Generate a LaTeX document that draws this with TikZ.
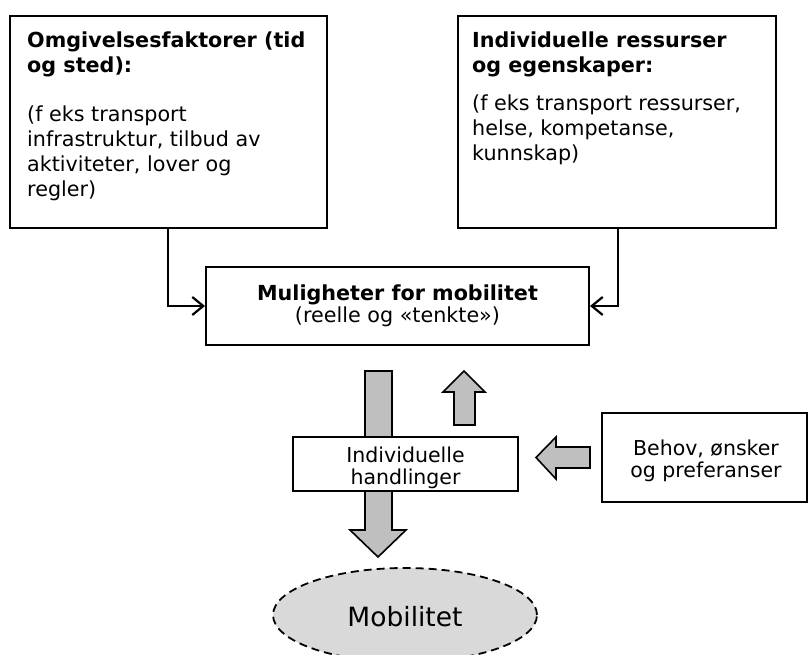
\documentclass[tikz,border=0pt]{standalone}
\usepackage{fontspec}
\setmainfont{DejaVu Sans}
\usetikzlibrary{arrows.meta,shapes.geometric}
\definecolor{arrgray}{HTML}{BFBFBF}
\definecolor{ellgray}{HTML}{D9D9D9}
\begin{document}
\begin{tikzpicture}[x=1pt,y=-1pt,
  box/.style={draw, line width=2pt, fill=white, inner sep=0pt},
  conn/.style={line width=2.6pt, -{Straight Barb[length=11pt,width=18pt,line width=2.2pt]}},
  blk/.style={draw, line width=1.6pt, fill=arrgray, line join=miter},
  txt/.style={inner sep=0pt, align=left, anchor=north west, font=\fontsize{20.7}{25}\selectfont},
  small/.style={inner sep=0pt, font=\fontsize{20.5}{22}\selectfont, align=center},
]
\useasboundingbox (0,0) rectangle (808,655);
\clip (0,0) rectangle (808,655);

% top boxes
\node[box, minimum width=317pt, minimum height=212pt, anchor=north west] (A) at (9,15) {};
\node[box, minimum width=318pt, minimum height=212pt, anchor=north west] (B) at (457,15) {};
\node[txt] (Ah) at (27,32) {\bfseries Omgivelsesfaktorer (tid\\\bfseries og sted):};
\node[txt] (At) at (27,106) {(f eks transport\\infrastruktur, tilbud av\\aktiviteter, lover og\\regler)};
\node[txt] (Bh) at (472,32) {\bfseries Individuelle ressurser\\\bfseries og egenskaper:};
\node[txt] (Bt) at (472,95) {(f eks transport ressurser,\\helse, kompetanse,\\kunnskap)};

% middle box
\node[box, minimum width=383pt, minimum height=78pt, align=center,
      font=\fontsize{20.7}{22}\selectfont] (M) at (397.5,306)
      {\textbf{Muligheter for mobilitet}\\(reelle og «tenkte»)};

\draw[conn] ([xshift=159pt]A.south west) |- (M.west);
\draw[conn] ([xshift=-159pt]B.south east) |- (M.east);

% block arrows
\draw[blk] (365,371) -- (392,371) -- (392,530) -- (406,530) -- (378,557)
           -- (350,530) -- (365,530) -- cycle;
\draw[blk] (454,425) -- (454,392) -- (443,392) -- (464,371) -- (485,392)
           -- (475,392) -- (475,425) -- cycle;
\draw[blk] (590,447) -- (556,447) -- (556,437) -- (536,457.5) -- (556,479)
           -- (556,468) -- (590,468) -- cycle;

% lower boxes
\node[box, minimum width=225pt, minimum height=54pt] (H) at (405.5,464) {};
\node[small] (Ht) at (405.5,468) {Individuelle\\handlinger};
\node[box, minimum width=205pt, minimum height=89pt] (P) at (704.5,457) {};
\node[small] (Pt) at (706,461) {Behov, ønsker\\og preferanser};

% ellipse
\node[ellipse, draw, line width=1.8pt, dash pattern=on 8pt off 5pt, fill=ellgray,
      minimum width=264pt, minimum height=94pt, inner sep=0pt] (E) at (405,615) {};
\node[font=\fontsize{26.5}{30}\selectfont, inner sep=0pt] (Et) at (405,617) {Mobilitet};
\end{tikzpicture}
\end{document}
